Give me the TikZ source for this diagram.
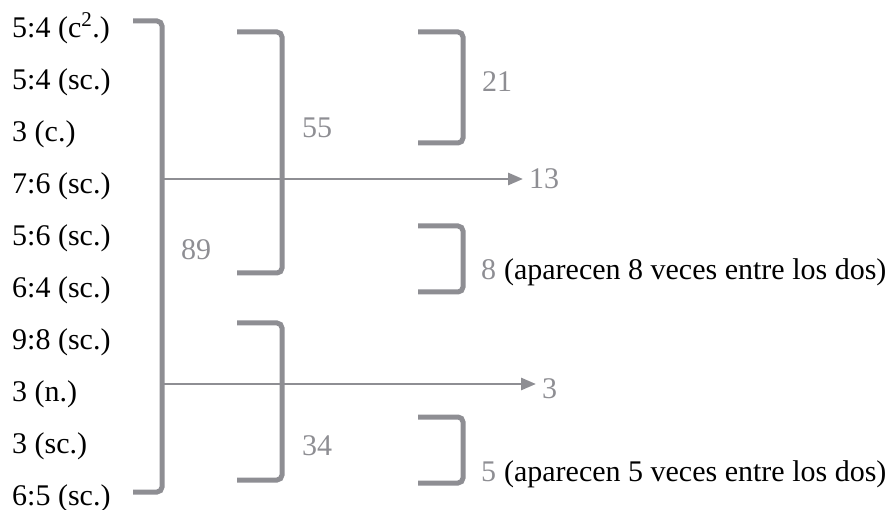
\documentclass[tikz,border=0pt]{standalone}
\usepackage{fontspec}
\setmainfont{Liberation Serif}
\usetikzlibrary{arrows.meta}
\definecolor{brk}{RGB}{142,142,147}
\begin{document}
\begin{tikzpicture}[x=1pt,y=-1pt,
  every node/.style={inner sep=0pt, font=\fontsize{30}{36}\selectfont},
  item/.style={anchor=base west},
  num/.style={anchor=base west, text=brk},
  brace/.style={draw=brk, line width=5pt, rounded corners=5pt},
  link/.style={draw=brk, line width=2.8pt, shorten >=6pt,
    -{Triangle[length=15pt,width=12pt]}}]
\useasboundingbox (0,0) rectangle (891,510);

% list of intervals, one per row
\node[item] (r0) at (12,38)    {5:4 (c\raisebox{2pt}{\textsuperscript{2}}.)};
\node[item] (r1) at (12,89.9)  {5:4 (sc.)};
\node[item] (r2) at (12,141.8) {3 (c.)};
\node[item] (r3) at (12,193.7) {7:6 (sc.)};
\node[item] (r4) at (12,245.6) {5:6 (sc.)};
\node[item] (r5) at (12,297.5) {6:4 (sc.)};
\node[item] (r6) at (12,349.4) {9:8 (sc.)};
\node[item] (r7) at (12,401.3) {3 (n.)};
\node[item] (r8) at (12,453.2) {3 (sc.)};
\node[item] (r9) at (12,505.1) {6:5 (sc.)};

% grouping brackets
\draw[brace] (133,21)  -- (162,21)  -- (162,492) -- (133,492);
\draw[brace] (237,32)  -- (282,32)  -- (282,273) -- (237,273);
\draw[brace] (418,32)  -- (463,32)  -- (463,143) -- (418,143);
\draw[brace] (418,226) -- (463,226) -- (463,292) -- (418,292);
\draw[brace] (237,323) -- (282,323) -- (282,480) -- (237,480);
\draw[brace] (418,417) -- (463,417) -- (463,483) -- (418,483);

% bracket totals
\node[num] (n89) at (181,260) {89};
\node[num] (n55) at (302,138) {55};
\node[num] (n21) at (482,92)  {21};
\node[num] (n34) at (302,455) {34};
\node[num] (n8)  at (481,280) {8};
\node[item, anchor=base west] (c8) at (n8.base east) {\ (aparecen 8 veces entre los dos)};
\node[num] (n5)  at (481,481) {5};
\node[item, anchor=base west] (c5) at (n5.base east) {\ (aparecen 5 veces entre los dos)};

% branches off the main bracket
\node[num] (n13) at (529,189) {13};
\node[num] (n3)  at (542,398) {3};
\coordinate (s13) at (162,179);
\coordinate (s3)  at (162,384);
\draw[link] (s13) -- (s13 -| n13.west);
\draw[link] (s3)  -- (s3 -| n3.west);
\end{tikzpicture}
\end{document}
